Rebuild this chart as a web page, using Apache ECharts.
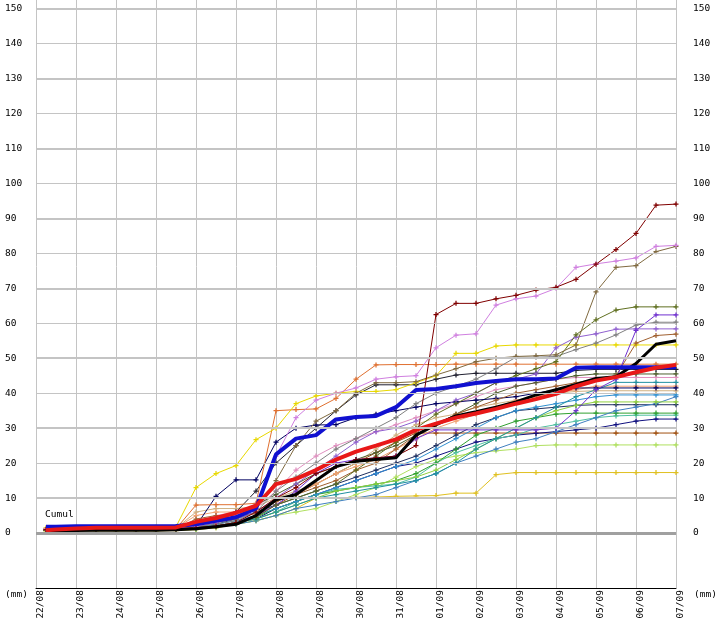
<!DOCTYPE html>
<html>
<head>
<meta charset="utf-8">
<script src="https://cdn.jsdelivr.net/npm/echarts@6/dist/echarts.min.js"></script>
<style>
html,body{margin:0;padding:0;background:#fff;}
#c{width:721px;height:623px;}
</style>
</head>
<body>
<div id="c"></div>
<script>
// time of each reading, in days since 22/08 00h
const times = [0.25,0.5,1,1.5,2,2.5,3,3.5,4,4.5,5,5.5,6,6.5,7,7.5,8,8.5,9,9.5,10,10.5,11,11.5,12,12.5,13,13.5,14,14.5,15,15.5,16];
const dayLabels = ['22/08','23/08','24/08','25/08','26/08','27/08','28/08','29/08','30/08','31/08','01/09','02/09','03/09','04/09','05/09','06/09','07/09'];
const yTicks = [0,10,20,30,40,50,60,70,80,90,100,110,120,130,140,150];

// cumulative rainfall (mm)
const sMaroon   = [1,1,1.2,1.2,1.2,1.2,1.2,1.3, 1.5,2,3,6, 10,13,17,19, 21,21.5,22,25, 62.5,65.7,65.7,67, 68,69.5,70.3,72.6, 76.9,81.1,85.7,93.8, 94.1];
const sOrchid   = [1.2,1.2,1.3,1.3,1.3,1.3,1.3,1.4, 2,3,5,8, 22,33,38,40, 41.5,44,44.7,45, 53,56.6,57,65.2, 67,67.8,70,76, 77,77.8,78.7,82, 82.3];
const sOliveBr  = [1,1,1.1,1.1,1.1,1.1,1.1,1.2, 2,3,4,7, 15,25,32,35, 40,43,43,43.3, 45.2,47,49,50, 50.5,50.7,51,53.8, 69,76,76.5,80.5, 82];
const sOliveGr  = [0.8,0.8,0.9,0.9,0.9,0.9,0.9,1, 1.5,2,3,4.5, 8,10,12,14, 18,22,26,30, 34,37,40,43, 45,47,49,56.7, 61,63.8,64.7,64.7, 64.7];
const sPurple   = [1,1,1,1,1,1,1,1.1, 1.5,2,3,5, 8,12,17,20, 21,21.5,22,27, 29.5,29.5,29.5,29.5, 29.5,29.5,30,35, 41,44,58,62.4, 62.4];
const sGray     = [1,1,1.1,1.1,1.1,1.1,1.1,1.2, 1.8,2.5,3.5,6, 12,16,20,24, 27,30,33,37, 40,42,44,47, 50.3,50.3,50.5,52.5, 54.3,56.7,59.5,60.3, 60.3];
const sMidPurp  = [1.1,1.1,1.2,1.2,1.2,1.2,1.2,1.3, 2,3,4,6, 10,14,18,22, 26,29,30,32, 35,38,40,43, 44,45.5,53,56, 57,58.3,58.4,58.4, 58.4];
const sBrown    = [0.9,0.9,1,1,1,1,1,1.1, 4,5,5,5.5, 9,11,13,15, 18,20,24,28, 31,34,36,38, 40,41,42,43, 44,45,54.3,56.5, 56.9];
const sYellow   = [1.5,1.5,1.6,1.6,1.6,1.6,1.7,1.8, 13,17,19.3,26.7, 30,37,39.2,40, 40.5,40.5,41,43, 45,51.4,51.4,53.5, 53.8,53.8,53.8,53.8, 53.8,53.8,53.8,53.8, 53.8];
const sOrange   = [1,1,1.1,1.1,1.1,1.1,1.1,1.2, 8,8.1,8.1,8.5, 35,35.3,35.5,38.5, 44,48.1,48.2,48.2, 48.2,48.3,48.3,48.3, 48.3,48.3,48.3,48.3, 48.3,48.3,48.3,48.3, 48.3];
const sDark     = [1,1,1,1,1,1,1,1.1, 2,3,6,12, 20,25,30,35, 39.5,42.4,42.4,42.4, 44,45.2,45.7,45.7, 45.7,45.7,45.7,46.5, 46.8,46.8,46.8,46.8, 46.8];
const sNavyA    = [0.8,0.8,0.8,0.8,0.8,0.8,0.8,0.9, 2,10.5,15.2,15.2, 26,30,30.9,31, 33,34,35,36, 37,37.5,38,38.5, 39,40,41,41.5, 41.5,41.5,41.5,41.5, 41.5];
const sTeal     = [1,1,1,1,1,1,1,1, 1.5,2,3,4, 6,8,10,11, 12,13,14,15, 17,20,24,27, 30,33,36,39, 41,43.1,43.1,43.1, 43.1];
const sTan      = [1.2,1.2,1.2,1.2,1.2,1.2,1.2,1.3, 6,7,7,7.5, 10,12,14,17, 20,24,28,31, 33,34,36,37, 38,39,40,40.5, 40.7,40.7,40.7,40.7, 40.7];
const sSteel    = [0.8,0.8,0.8,0.8,0.8,0.8,0.8,0.9, 1.2,1.8,2.5,3.5, 5,7,8,9, 10,11,13,15, 17,20,22,24, 26,27,29,31, 33,35,36,37, 39];
const sNavyB    = [1,1,1,1,1,1,1,1.1, 1.5,2.5,4,6, 8,10,12,14, 16,18,20,22, 25,28,31,33, 35,35.5,36,36.5, 36.7,36.7,36.7,36.7, 36.7];
const sGreen    = [0.8,0.8,0.8,0.8,0.8,0.8,0.8,0.9, 1.2,2,3,4.5, 7,9,11,12, 13,14,15,17, 20,24,28,30, 32,33,34,34.3, 34.3,34.3,34.3,34.3, 34.3];
const sSeaGreen = [0.9,0.9,0.9,0.9,0.9,0.9,0.9,1, 1.3,2,3,4, 6,9,11,12.5, 13,13.5,14,16, 20,23,25,27, 28,30,31,32, 33,33.5,33.7,33.7, 33.7];
const sNavyC    = [1,1,1,1,1,1,1,1.1, 1.5,2,3,4, 7,9,11,13, 15,17,19,20, 22,24,26,27, 28,28.5,29,29.5, 30,31,32,32.6, 32.6];
const sRust     = [1,1,1,1,1,1,1,1.1, 1.5,2,3,5, 8,11,14,17, 20,23,26,28.6, 28.6,28.6,28.6,28.6, 28.6,28.6,28.6,28.6, 28.6,28.6,28.6,28.6, 28.6];
const sLime     = [0.7,0.7,0.7,0.7,0.7,0.7,0.7,0.8, 1,1.5,2.5,3.5, 5,6,7,9, 11,13,16,19, 21,22,23,23.5, 24,25,25.2,25.2, 25.2,25.2,25.2,25.2, 25.2];
const sGold     = [0.6,0.6,0.6,0.6,0.6,0.6,0.6,0.7, 1,1.5,2.5,3.5, 5,7,10,10, 10.2,10.3,10.5,10.6, 10.7,11.4,11.4,16.7, 17.3,17.3,17.3,17.3, 17.3,17.3,17.3,17.3, 17.3];
const sCyan     = [0.9,0.9,0.9,0.9,0.9,0.9,0.9,1, 1.5,2.5,3.5,5, 7,9,11,13, 15,17,19,21, 24,27,30,33, 35,36,37,38, 39,39.5,39.5,39.5, 39.5];
const sPink     = [1.1,1.1,1.1,1.1,1.1,1.1,1.1,1.2, 3,5,6,7, 12,18,22,25, 27,29,31,33, 35,37,39,41, 42,43,44,44.5, 44.5,44.5,44.5,44.5, 44.5];
const sLeaf     = [0.7,0.7,0.7,0.7,0.7,0.7,0.7,0.8, 1.2,2,3,4, 6,8,10,12, 13,14,15,16, 18,21,24,27, 30,33,35,36.5, 37.5,37.5,37.5,37.5, 37.5];
const sDkOlive  = [1,1,1,1,1,1,1,1.1, 1.8,3,5,8, 11,14,17,19, 21,23,25,28, 31,34,37,40, 42,43,44,45, 45.5,45.5,45.5,45.5, 45.5];
const sSalmon   = [1.3,1.3,1.3,1.3,1.3,1.3,1.3,1.4, 5,6,6,6.5, 9,11,14,17, 19,21,24,27, 30,32,34,36, 38,39,40,41, 42,42,42,42, 42];
const sBlack    = [0.5,0.6,0.7,0.8,0.8,0.8,0.8,0.9, 1.2,1.8,2.5,5, 9.5,11,15,19, 20.5,21,21.5,28, 31,33.5,34.7,36, 37.5,39.5,41,42.5, 44.2,44.7,48.5,54, 55];
const sBlue     = [1.8,1.8,1.9,1.9,1.9,1.9,1.9,2.0, 2.5,3.5,4.5,7, 22.5,27,28,32.5, 33.2,33.5,36,40.9, 41.2,42,42.9,43.5, 44,44,44.2,47.3, 47.4,47.4,47.4,47.4, 47.4];
const sRed      = [0.8,1.0,1.3,1.5,1.5,1.5,1.5,1.6, 3.2,4.3,5.8,7.8, 14,15.5,18,21, 23.3,25,26.8,29.5, 31.3,33,34.2,35.5, 37,38.3,39.8,42, 43.6,44.6,46,47.3, 48.1];

const thin = [
  [sGold,'#e0c020'],[sLime,'#b0e060'],[sRust,'#a05010'],[sNavyC,'#101080'],[sSeaGreen,'#50c0a0'],
  [sGreen,'#30a030'],[sNavyB,'#203060'],[sSteel,'#4080c0'],[sLeaf,'#90d040'],[sCyan,'#3090d0'],
  [sTan,'#d0b080'],[sSalmon,'#f0a070'],[sTeal,'#2090a0'],[sPink,'#e090c0'],[sDkOlive,'#506030'],
  [sNavyA,'#000060'],[sDark,'#202030'],[sOrange,'#e07030'],[sYellow,'#e8d800'],[sBrown,'#a06030'],
  [sMidPurp,'#9060d0'],[sGray,'#808080'],[sPurple,'#7030d0'],[sOliveGr,'#607020'],[sOliveBr,'#806a40'],
  [sOrchid,'#d080e0'],[sMaroon,'#800000']
];
const thick = [[sBlack,'#000000',3],[sBlue,'#1010d0',4],[sRed,'#e81818',4]];

const pts = vals => vals.map((v,i)=>[times[i], v]);
const FONT = 'DejaVu Sans Mono';
const plus = 'path://M3,0H5V3H8V5H5V8H3V5H0V3H3Z';

const series = [];
series.push({
  type:'line', xAxisIndex:0, yAxisIndex:0, data:[], silent:true, z:1,
  markLine:{
    silent:true, symbol:'none', label:{show:false}, animation:false,
    data: yTicks.map(v=>({yAxis:v, lineStyle:{type:'solid',
      width: v===0 ? 3 : ((v/10)%2===1 ? 2 : 1),
      color: v===0 ? '#a0a0a0' : '#c4c4c4'}}))
  }
});
thin.forEach(([vals,color])=>{
  series.push({type:'line', xAxisIndex:0, yAxisIndex:0, data:pts(vals), z:2,
    symbol:plus, symbolSize:5, showSymbol:true,
    lineStyle:{color, width:1}, itemStyle:{color}, emphasis:{disabled:true}});
});
thick.forEach(([vals,color,w])=>{
  series.push({type:'line', xAxisIndex:0, yAxisIndex:0, data:pts(vals), z:3,
    symbol:'none', lineStyle:{color, width:w}, itemStyle:{color}, emphasis:{disabled:true}});
});

const chart = echarts.init(document.getElementById('c'), null, {renderer:'canvas'});
chart.setOption({
  animation:false,
  backgroundColor:'#ffffff',
  grid:[
    {left:36, right:45, top:0, bottom:90},
    {left:36, right:45, top:533, bottom:35}
  ],
  xAxis:[
    {type:'value', gridIndex:0, min:0, max:16, interval:1,
     axisLine:{show:false}, axisTick:{show:false}, axisLabel:{show:false},
     splitLine:{show:true, lineStyle:{color:'#c4c4c4', width:1}}},
    {type:'value', gridIndex:1, min:0, max:16, interval:1,
     axisLine:{show:true, onZero:false, lineStyle:{color:'#000', width:1}}, axisTick:{show:false},
     splitLine:{show:true, lineStyle:{color:'#c4c4c4', width:1}},
     axisLabel:{show:true, rotate:90, margin:2, verticalAlign:'top', fontFamily:FONT, fontSize:9.5, color:'#000',
       formatter: v => dayLabels[v] || ''}}
  ],
  yAxis:[
    {type:'value', gridIndex:0, min:0, max:152.5, interval:10, position:'left',
     axisLine:{show:false}, axisTick:{show:false}, splitLine:{show:false},
     axisLabel:{align:'left', margin:31, fontFamily:FONT, fontSize:9.5, color:'#000',
       formatter: v => (v % 10 === 0 && v <= 150) ? String(v) : ''}},
    {type:'value', gridIndex:0, min:0, max:152.5, interval:10, position:'right',
     axisLine:{show:false}, axisTick:{show:false}, splitLine:{show:false},
     axisLabel:{align:'left', margin:17, fontFamily:FONT, fontSize:9.5, color:'#000',
       formatter: v => (v % 10 === 0 && v <= 150) ? String(v) : ''}},
    {type:'value', gridIndex:1, min:0, max:1, show:false, splitLine:{show:false}}
  ],
  graphic:[
    {type:'text', left:45, top:510, style:{text:'Cumul', font:'9.5px "DejaVu Sans Mono"', fill:'#000'}},
    {type:'text', left:5, top:590, style:{text:'(mm)', font:'9.5px "DejaVu Sans Mono"', fill:'#000'}},
    {type:'text', left:694, top:590, style:{text:'(mm)', font:'9.5px "DejaVu Sans Mono"', fill:'#000'}}
  ],
  series
});
</script>
</body>
</html>
